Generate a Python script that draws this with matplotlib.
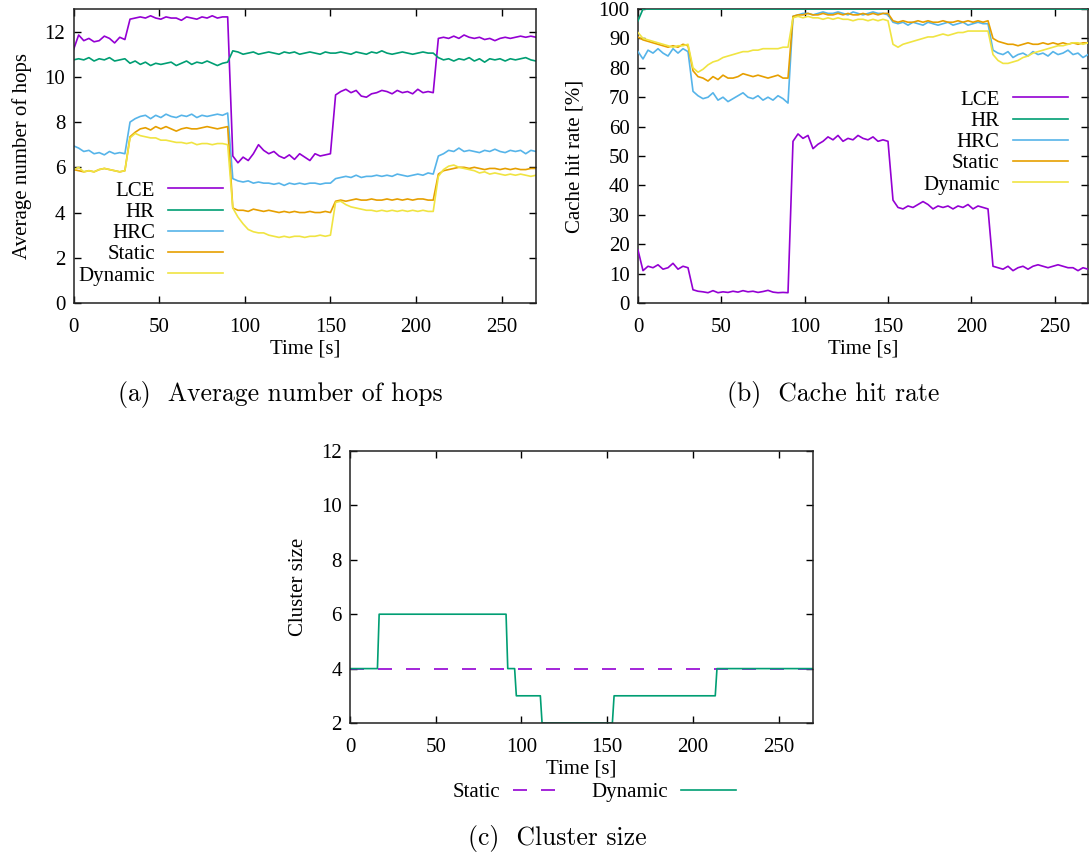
import matplotlib
matplotlib.use("Agg")
import matplotlib.pyplot as plt

plt.rcParams['font.family'] = ['Liberation Serif', 'DejaVu Serif']
plt.rcParams['font.size'] = 15

# sampling grid of the measurements (every 3 s)
time_s = list(range(0, 271, 3))

# (a) average number of hops
hops_lce = [11.2, 11.85, 11.6, 11.7, 11.55, 11.6, 11.8, 11.7, 11.5, 11.75, 11.65,
            12.55, 12.6, 12.65, 12.6, 12.7, 12.6, 12.55, 12.65, 12.6, 12.6, 12.5, 12.65, 12.6, 12.55, 12.65, 12.6, 12.7, 12.6, 12.65, 12.65,
            6.5, 6.2, 6.45, 6.3, 6.6, 7.0, 6.75, 6.6, 6.7, 6.5, 6.4, 6.55, 6.35, 6.6, 6.45, 6.3, 6.6, 6.5, 6.55, 6.6,
            9.2, 9.35, 9.45, 9.3, 9.4, 9.15, 9.1, 9.25, 9.3, 9.4, 9.35, 9.25, 9.4, 9.3, 9.35, 9.25, 9.45, 9.3, 9.35, 9.3,
            11.7, 11.75, 11.7, 11.8, 11.7, 11.85, 11.75, 11.7, 11.75, 11.65, 11.7, 11.6, 11.7, 11.75, 11.7, 11.75, 11.8, 11.75, 11.8, 11.75]
hops_hr = [10.75, 10.8, 10.75, 10.85, 10.7, 10.8, 10.75, 10.85, 10.7, 10.75, 10.8,
           10.6, 10.7, 10.55, 10.65, 10.5, 10.6, 10.55, 10.6, 10.65, 10.5, 10.6, 10.7, 10.55, 10.65, 10.6, 10.7, 10.6, 10.5, 10.6, 10.65,
           11.15, 11.1, 11.0, 11.05, 11.1, 11.0, 11.05, 11.1, 11.05, 11.0, 11.1, 11.05, 11.1, 11.0, 11.05, 11.1, 11.05, 11.0, 11.1, 11.05,
           11.05, 11.1, 11.05, 11.0, 11.1, 11.05, 11.0, 11.1, 11.05, 11.15, 11.05, 11.0, 11.05, 11.1, 11.05, 11.0, 11.05, 11.1, 11.05, 11.05,
           10.85, 10.75, 10.8, 10.7, 10.8, 10.75, 10.85, 10.7, 10.8, 10.65, 10.8, 10.75, 10.8, 10.7, 10.8, 10.75, 10.8, 10.85, 10.75, 10.7]
hops_hrc = [6.95, 6.85, 6.7, 6.75, 6.6, 6.65, 6.55, 6.7, 6.6, 6.65, 6.6,
            8.0, 8.15, 8.25, 8.3, 8.15, 8.3, 8.2, 8.35, 8.25, 8.2, 8.3, 8.25, 8.35, 8.2, 8.3, 8.25, 8.3, 8.35, 8.3, 8.4,
            5.5, 5.4, 5.35, 5.4, 5.3, 5.35, 5.3, 5.3, 5.25, 5.3, 5.2, 5.3, 5.25, 5.3, 5.25, 5.3, 5.3, 5.25, 5.3, 5.3,
            5.5, 5.55, 5.6, 5.55, 5.65, 5.55, 5.6, 5.6, 5.65, 5.6, 5.65, 5.6, 5.7, 5.65, 5.6, 5.65, 5.7, 5.65, 5.75, 5.7,
            6.5, 6.6, 6.75, 6.7, 6.85, 6.7, 6.75, 6.7, 6.65, 6.75, 6.7, 6.8, 6.7, 6.65, 6.75, 6.7, 6.75, 6.6, 6.75, 6.7]
hops_static = [5.9, 5.85, 5.8, 5.85, 5.8, 5.9, 5.95, 5.9, 5.85, 5.8, 5.85,
               7.35, 7.55, 7.7, 7.75, 7.65, 7.8, 7.7, 7.8, 7.7, 7.6, 7.7, 7.75, 7.7, 7.7, 7.75, 7.8, 7.75, 7.7, 7.75, 7.8,
               4.2, 4.1, 4.1, 4.05, 4.15, 4.1, 4.05, 4.1, 4.05, 4.0, 4.05, 4.0, 4.05, 4.0, 4.0, 4.05, 4.0, 4.0, 4.05, 4.0,
               4.5, 4.55, 4.5, 4.55, 4.6, 4.55, 4.55, 4.6, 4.55, 4.55, 4.6, 4.55, 4.6, 4.55, 4.6, 4.55, 4.6, 4.6, 4.55, 4.55,
               5.7, 5.85, 5.9, 5.95, 6.0, 6.0, 5.95, 6.0, 5.95, 5.9, 5.95, 5.95, 5.9, 5.95, 5.9, 5.95, 5.9, 5.9, 5.95, 5.95]
hops_dynamic = [5.9, 6.0, 5.8, 5.85, 5.8, 5.9, 5.95, 5.9, 5.85, 5.8, 5.85,
                7.3, 7.5, 7.4, 7.35, 7.3, 7.3, 7.2, 7.2, 7.15, 7.1, 7.1, 7.05, 7.1, 7.0, 7.05, 7.05, 7.0, 7.05, 7.05, 7.0,
                4.2, 3.8, 3.5, 3.25, 3.15, 3.1, 3.1, 3.0, 2.95, 2.9, 2.95, 2.9, 2.95, 2.95, 2.9, 2.95, 2.95, 3.0, 2.95, 3.0,
                4.45, 4.5, 4.35, 4.25, 4.2, 4.15, 4.1, 4.1, 4.05, 4.1, 4.05, 4.1, 4.05, 4.1, 4.05, 4.1, 4.05, 4.1, 4.05, 4.05,
                5.6, 5.9, 6.05, 6.1, 6.0, 5.95, 5.9, 5.85, 5.75, 5.8, 5.7, 5.75, 5.7, 5.65, 5.7, 5.65, 5.7, 5.65, 5.6, 5.65]

# (b) cache hit rate [%]
hit_lce = [18.0, 11.0, 12.5, 12.0, 13.0, 11.5, 12.0, 13.5, 11.5, 12.5, 12.0,
           4.5, 4.0, 3.8, 3.5, 4.2, 3.5, 3.8, 3.6, 4.0, 3.7, 4.2, 3.8, 4.0, 3.6, 3.9, 4.3, 3.7, 3.5, 3.6, 3.5,
           55.0, 57.5, 56.0, 57.0, 52.5, 54.0, 55.0, 56.5, 55.5, 57.0, 55.0, 56.0, 55.5, 57.0, 56.0, 55.5, 56.5, 55.0, 55.5, 55.0,
           35.0, 32.5, 32.0, 33.0, 32.5, 33.5, 34.5, 33.5, 32.0, 33.0, 32.5, 33.0, 32.0, 33.0, 32.5, 33.5, 32.0, 33.0, 32.5, 32.0,
           12.5, 12.0, 11.5, 12.5, 11.0, 12.0, 12.5, 11.5, 12.5, 13.0, 12.5, 12.0, 12.5, 13.0, 12.5, 12.0, 12.0, 11.0, 12.0, 11.5]
hit_hr = [96.0, 100.0, 100.0, 100.0, 100.0, 100.0, 100.0, 100.0, 100.0, 100.0, 100.0,
          100.0, 100.0, 100.0, 100.0, 100.0, 100.0, 100.0, 100.0, 100.0, 100.0, 100.0, 100.0, 100.0, 100.0, 100.0, 100.0, 100.0, 100.0, 100.0, 100.0,
          100.0, 100.0, 100.0, 100.0, 100.0, 100.0, 100.0, 100.0, 100.0, 100.0, 100.0, 100.0, 100.0, 100.0, 100.0, 100.0, 100.0, 100.0, 100.0, 100.0,
          100.0, 100.0, 100.0, 100.0, 100.0, 100.0, 100.0, 100.0, 100.0, 100.0, 100.0, 100.0, 100.0, 100.0, 100.0, 100.0, 100.0, 100.0, 100.0, 100.0,
          100.0, 100.0, 100.0, 100.0, 100.0, 100.0, 100.0, 100.0, 100.0, 100.0, 100.0, 100.0, 100.0, 100.0, 100.0, 100.0, 100.0, 100.0, 100.0, 100.0]
hit_hrc = [85.5, 83.0, 86.0, 85.0, 86.5, 85.0, 84.0, 86.5, 85.0, 86.5, 85.5,
           72.0, 70.5, 69.5, 70.0, 71.5, 69.0, 70.0, 68.5, 69.5, 70.5, 71.5, 70.0, 69.5, 70.5, 69.0, 70.0, 69.0, 70.5, 69.5, 68.0,
           97.5, 98.0, 98.5, 98.5, 98.0, 98.5, 99.0, 98.5, 98.5, 99.0, 98.5, 98.0, 99.0, 98.5, 98.0, 98.5, 99.0, 98.5, 98.5, 98.0,
           95.5, 95.0, 95.5, 94.5, 95.5, 95.0, 94.5, 95.5, 95.0, 94.5, 95.0, 95.5, 94.5, 95.0, 95.5, 94.5, 95.0, 95.5, 95.0, 95.0,
           86.0, 85.0, 84.5, 85.5, 83.5, 84.5, 85.0, 84.0, 85.5, 84.5, 85.0, 84.0, 85.5, 84.5, 85.0, 86.0, 84.5, 85.0, 83.5, 84.5]
hit_static = [90.5, 89.5, 89.0, 88.5, 88.0, 87.5, 87.0, 87.5, 87.0, 88.0, 87.5,
              79.0, 77.0, 76.5, 75.5, 77.0, 76.0, 77.5, 76.5, 76.5, 77.0, 78.0, 77.5, 77.0, 77.5, 77.0, 76.5, 77.0, 77.5, 76.5, 76.5,
              97.5, 98.0, 98.0, 98.5, 98.0, 98.0, 98.5, 98.0, 98.0, 98.5, 98.0, 98.5, 98.0, 98.0, 98.5, 98.0, 98.5, 98.0, 98.5, 98.5,
              96.0, 95.5, 96.0, 95.5, 95.5, 96.0, 95.5, 96.0, 95.5, 95.5, 96.0, 95.5, 95.5, 96.0, 95.5, 96.0, 95.5, 96.0, 95.5, 96.0,
              90.0, 89.0, 88.5, 88.0, 88.0, 87.5, 88.0, 88.5, 88.0, 88.0, 88.5, 88.0, 88.5, 88.0, 88.5, 88.0, 88.5, 88.0, 88.5, 88.5]
hit_dynamic = [92.0, 90.0, 89.5, 89.0, 88.5, 88.0, 87.5, 87.0, 87.5, 87.5, 88.0,
               80.0, 78.5, 79.5, 81.0, 82.0, 82.5, 83.5, 84.0, 84.5, 85.0, 85.5, 85.5, 86.0, 86.0, 86.5, 86.5, 86.5, 86.5, 87.0, 87.0,
               97.0, 97.5, 97.0, 97.5, 97.0, 97.0, 96.5, 97.0, 96.5, 97.0, 96.5, 96.5, 96.0, 96.5, 96.5, 96.0, 96.5, 96.0, 96.5, 96.0,
               88.0, 87.0, 88.0, 88.5, 89.0, 89.5, 90.0, 90.5, 90.5, 91.0, 91.5, 91.0, 91.5, 92.0, 92.0, 92.5, 92.5, 92.5, 92.5, 92.5,
               84.5, 82.5, 81.5, 81.5, 82.0, 82.5, 83.5, 84.0, 85.0, 85.5, 86.0, 86.5, 87.0, 87.5, 87.5, 88.0, 88.5, 88.5, 88.0, 88.5]

# (c) cluster size
cluster_time = [0, 16, 17, 91, 92, 96, 97, 111, 112, 153, 154, 213, 214, 270]
cluster_dynamic = [4, 4, 6, 6, 4, 4, 3, 3, 2, 2, 3, 3, 4, 4]
static_time = [0, 270]
cluster_static = [4, 4]

names = ['LCE', 'HR', 'HRC', 'Static', 'Dynamic']
colors = ['#9400d3', '#009e73', '#56b4e9', '#e69f00', '#f0e442']

W, H = 1092, 858
fig = plt.figure(figsize=(W / 100, H / 100), dpi=100)


def px_axes(left, top, right, bottom):
    return fig.add_axes([left / W, 1 - bottom / H, (right - left) / W, (bottom - top) / H])


def style(ax):
    ax.tick_params(direction='in', top=True, right=True, length=5, width=1.0,
                   labelsize=15)
    ax.tick_params(axis='x', pad=10.5)
    ax.tick_params(axis='y', pad=6)
    for s in ax.spines.values():
        s.set_linewidth(1.1)
        s.set_color('#222222')
    ax.set_xlim(0, 270)
    ax.set_xticks([0, 50, 100, 150, 200, 250])
    ax.set_xlabel('Time [s]', labelpad=2)


leg_kw = dict(frameon=False, markerfirst=False, handlelength=2.65, handletextpad=0.63,
              borderpad=0, borderaxespad=0, fontsize=15)

ax_a = px_axes(73.5, 9, 536, 303)
ax_b = px_axes(638, 9, 1088, 303)
ax_c = px_axes(350, 451, 813, 723)

for series, name, c in zip([hops_lce, hops_hr, hops_hrc, hops_static, hops_dynamic], names, colors):
    ax_a.plot(time_s, series, color=c, lw=1.2, label=name)
style(ax_a)
ax_a.set_ylim(0, 13)
ax_a.set_yticks([0, 2, 4, 6, 8, 10, 12])
ax_a.set_ylabel('Average number of hops', labelpad=9)
ax_a.legend(loc='upper right', bbox_to_anchor=(0.3235, 0.415), labelspacing=0.08, **leg_kw)

for series, name, c in zip([hit_lce, hit_hr, hit_hrc, hit_static, hit_dynamic], names, colors):
    ax_b.plot(time_s, series, color=c, lw=1.2, label=name, zorder=3)
style(ax_b)
ax_b.set_ylim(0, 100)
ax_b.set_yticks(range(0, 101, 10))
ax_b.set_ylabel('Cache hit rate [%]', labelpad=10)
ax_b.legend(loc='upper right', bbox_to_anchor=(0.9556, 0.7245), labelspacing=0.08, **leg_kw)

ax_c.plot(static_time, cluster_static, color=colors[0], lw=1.2, dashes=(8.4, 8.4), label='Static')
ax_c.plot(cluster_time, cluster_dynamic, color=colors[1], lw=1.2, label='Dynamic')
style(ax_c)
ax_c.set_ylim(2, 12)
ax_c.set_yticks([2, 4, 6, 8, 10, 12])
ax_c.set_ylabel('Cluster size', labelpad=9)
ax_c.legend(loc='upper center', bbox_to_anchor=(0.528, -0.22), ncol=2,
            columnspacing=1.1, **leg_kw)

# subfigure captions
cap = dict(ha='center', va='center', fontsize=18.5, family='cmr10')
fig.text(280 / W, 1 - 395 / H, '(a)  Average number of hops', **cap)
fig.text(833 / W, 1 - 395 / H, '(b)  Cache hit rate', **cap)
fig.text(557 / W, 1 - 838 / H, '(c)  Cluster size', **cap)

fig.savefig('out.png', dpi=100)
